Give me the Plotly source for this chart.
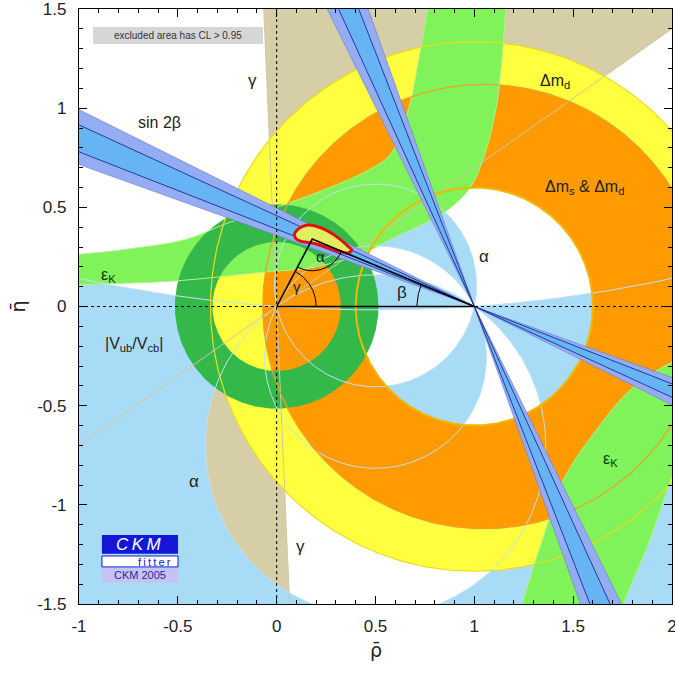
import numpy as np
import plotly.graph_objects as go

# ---------------- axis data ----------------
X_RANGE = [-1.0, 2.0]
Y_RANGE = [-1.5, 1.5]
X_TICKS = [-1, -0.5, 0, 0.5, 1, 1.5, 2]
X_TICK_TEXT = ["-1", "-0.5", "0", "0.5", "1", "1.5", "2"]
Y_TICKS = [-1.5, -1, -0.5, 0, 0.5, 1, 1.5]
Y_TICK_TEXT = ["-1.5", "-1", "-0.5", "0", "0.5", "1", "1.5"]

# ---------------- constraint data ----------------
GAMMA_DEG = [35.0, 92.5]                          # gamma (mod 180)
ALPHA_BANDS_DEG = [[78.0, 117.0], [144.5, 184.0]] # alpha (mod 180)
SIN2B_OUTER_DEG = [[19.7, 26.4], [63.6, 70.3]]    # beta solutions, 95% CL
SIN2B_INNER_DEG = [[21.3, 24.6], [65.4, 68.7]]    # beta solutions, 68% CL
DMD_CENTER = [1.0, 0.0]
DMD_RADII = [0.60, 1.335]
DMS_INNER = [1.0, 0.0, 0.60]                      # cx, cy, r
DMS_OUTER = [1.05, 0.0, 1.12]
VUB_CENTER = [0.0, 0.0]
VUB_RADII = [0.325, 0.515]

EPSK_UP_EDGE1_RHO = [-1.2, -1.0, -0.75, -0.46, -0.25, 0.0, 0.27, 0.45, 0.57, 0.63, 0.68, 0.72, 0.764, 0.79]
EPSK_UP_EDGE1_ETA = [0.25, 0.263, 0.29, 0.338, 0.42, 0.50, 0.60, 0.68, 0.76, 0.88, 1.045, 1.25, 1.5, 1.65]
EPSK_UP_EDGE2_RHO = [1.18, 1.16, 1.14, 1.11, 1.05, 0.98, 0.87, 0.75, 0.60, 0.44, 0.20, -0.10, -0.50, -1.0, -1.2]
EPSK_UP_EDGE2_ETA = [1.65, 1.5, 1.25, 1.0, 0.76, 0.60, 0.49, 0.42, 0.35, 0.27, 0.20, 0.17, 0.13, 0.11, 0.105]
EPSK_LO_EDGE1_RHO = [1.20, 1.243, 1.35, 1.45, 1.62, 1.79, 2.0, 2.2]
EPSK_LO_EDGE1_ETA = [-1.7, -1.5, -1.16, -0.875, -0.62, -0.42, -0.28, -0.20]
EPSK_LO_EDGE2_RHO = [2.15, 2.0, 1.876, 1.755, 1.70]
EPSK_LO_EDGE2_ETA = [-0.5, -0.86, -1.21, -1.5, -1.7]

FIT_RHO = [0.09, 0.115, 0.15, 0.20, 0.26, 0.32, 0.365, 0.38, 0.36, 0.31, 0.25, 0.18, 0.12, 0.095, 0.09]
FIT_ETA = [0.365, 0.395, 0.41, 0.405, 0.38, 0.34, 0.30, 0.285, 0.27, 0.28, 0.30, 0.32, 0.33, 0.345, 0.365]
APEX = [0.18, 0.34]

LABELS = [
    ("γ", -0.123, 1.138, 17, "#222"),
    ("sin 2β", -0.592, 0.929, 16, "#222"),
    ("Δm<sub>d</sub>", 1.41, 1.135, 16, "#222"),
    ("Δm<sub>s</sub> & Δm<sub>d</sub>", 1.555, 0.598, 16, "#222"),
    ("α", 1.05, 0.254, 17, "#222"),
    ("β", 0.636, 0.069, 17, "#222"),
    ("ε<sub>K</sub>", -0.85, 0.155, 16, "#0c3c0c"),
    ("|V<sub>ub</sub>/V<sub>cb</sub>|", -0.723, -0.19, 16, "#222"),
    ("α", -0.42, -0.88, 17, "#222"),
    ("γ", 0.121, -1.21, 17, "#222"),
    ("ε<sub>K</sub>", 1.69, -0.77, 16, "#0c3c0c"),
    ("γ", 0.105, 0.103, 15, "#222"),
    ("α", 0.223, 0.254, 15, "#222"),
]

FONT = "Liberation Sans, Arial, sans-serif"

# ---------------- geometry helpers ----------------
def circle(cx, cy, r, ccw=True, n=400):
    t = np.linspace(0, 2 * np.pi, n)
    if not ccw:
        t = t[::-1]
    return list(cx + r * np.cos(t)), list(cy + r * np.sin(t))

def join(parts):
    xs, ys = [], []
    for px, py in parts:
        if xs:
            xs.append(None); ys.append(None)
        xs += list(px); ys += list(py)
    return xs, ys

def alpha_circle(a_deg, ccw, n=400):
    a = np.radians(a_deg % 180.0)
    c = 0.5 / np.tan(a)
    R = 0.5 / abs(np.sin(a))
    nn = n if R < 2 else 4000
    return circle(0.5, c, R, ccw, nn)

def frame(ccw=True):
    xs = [-1.5, 2.5, 2.5, -1.5, -1.5]
    ys = [-2.0, -2.0, 2.0, 2.0, -2.0]
    if not ccw:
        xs, ys = xs[::-1], ys[::-1]
    return xs, ys

def wedge(px, py, a1, a2, L=6.0):
    th = np.radians(np.linspace(a1, a2, 30))
    return [px] + list(px + L * np.cos(th)) + [px], [py] + list(py + L * np.sin(th)) + [py]

def ray(px, py, a, L=6.0):
    t = np.radians(a)
    return [px, px + L * np.cos(t)], [py, py + L * np.sin(t)]

def arc(cx, cy, r, a1, a2, n=60):
    th = np.radians(np.linspace(a1, a2, n))
    return list(cx + r * np.cos(th)), list(cy + r * np.sin(th))

fig = go.Figure()

def fill(xy, color, shape="linear"):
    fig.add_trace(go.Scatter(x=xy[0], y=xy[1], mode="lines", fill="toself",
                             fillcolor=color, line=dict(width=0, color=color, shape=shape),
                             hoverinfo="skip", showlegend=False))

def line(xy, color, width=1.0, dash="solid", shape="linear"):
    fig.add_trace(go.Scatter(x=xy[0], y=xy[1], mode="lines",
                             line=dict(width=width, color=color, dash=dash, shape=shape),
                             hoverinfo="skip", showlegend=False))

# ---- gamma (tan) ----
g1, g2 = GAMMA_DEG
fill(join([wedge(0, 0, g1, g2), wedge(0, 0, g1 + 180, g2 + 180)]), "#d6cea7")

# ---- alpha (light blue) ----
for a1, a2 in ALPHA_BANDS_DEG:
    if a2 <= 180:
        xy = join([alpha_circle(a1, True), alpha_circle(a2, False)])
    else:
        xy = join([frame(True), alpha_circle(a1, False), alpha_circle(a2 - 180, False)])
    fill(xy, "#a8dcf6")

# ---- Delta m_d (yellow) ----
fill(join([circle(DMD_CENTER[0], DMD_CENTER[1], DMD_RADII[1], True),
           circle(DMD_CENTER[0], DMD_CENTER[1], DMD_RADII[0], False)]), "#ffff40")
# ---- Delta m_s & Delta m_d (orange) ----
fill(join([circle(DMS_OUTER[0], DMS_OUTER[1], DMS_OUTER[2], True),
           circle(DMS_INNER[0], DMS_INNER[1], DMS_INNER[2], False)]), "#ff9a00")

# ---- epsilon_K (light green) ----
fill((EPSK_UP_EDGE1_RHO + EPSK_UP_EDGE2_RHO, EPSK_UP_EDGE1_ETA + EPSK_UP_EDGE2_ETA), "#80f25a", "spline")
fill((EPSK_LO_EDGE1_RHO + EPSK_LO_EDGE2_RHO, EPSK_LO_EDGE1_ETA + EPSK_LO_EDGE2_ETA), "#80f25a", "spline")

# ---- |Vub/Vcb| (dark green ring) ----
fill(join([circle(VUB_CENTER[0], VUB_CENTER[1], VUB_RADII[1], True),
           circle(VUB_CENTER[0], VUB_CENTER[1], VUB_RADII[0], False)]), "#35b84a")

# ---- outlines of constraints ----
for a in [ALPHA_BANDS_DEG[0][0], ALPHA_BANDS_DEG[0][1], ALPHA_BANDS_DEG[1][0], ALPHA_BANDS_DEG[1][1]]:
    line(alpha_circle(a, True), "#bfe2f4", 1.0)
for a in [g1, g2, g1 + 180, g2 + 180]:
    line(ray(0, 0, a), "#cfc7a2", 1.0)
line((EPSK_UP_EDGE1_RHO, EPSK_UP_EDGE1_ETA), "#b4f290", 1.0, shape="spline")
line((EPSK_UP_EDGE2_RHO, EPSK_UP_EDGE2_ETA), "#b4f290", 1.0, shape="spline")
line((EPSK_LO_EDGE1_RHO, EPSK_LO_EDGE1_ETA), "#b4f290", 1.0, shape="spline")
line((EPSK_LO_EDGE2_RHO, EPSK_LO_EDGE2_ETA), "#b4f290", 1.0, shape="spline")
line(circle(DMD_CENTER[0], DMD_CENTER[1], DMD_RADII[1]), "#eadc20", 1.2)
line(circle(DMS_OUTER[0], DMS_OUTER[1], DMS_OUTER[2]), "#e8a428", 1.3)
line(circle(DMD_CENTER[0], DMD_CENTER[1], DMD_RADII[0]), "#f0b800", 2.0)

# ---- sin 2beta bands (through (1,0)) ----
for b1, b2 in SIN2B_OUTER_DEG:
    fill(join([wedge(1, 0, 180 - b2, 180 - b1), wedge(1, 0, -b2, -b1)]), "#93acf2")
for b1, b2 in SIN2B_INNER_DEG:
    fill(join([wedge(1, 0, 180 - b2, 180 - b1), wedge(1, 0, -b2, -b1)]), "#66b4f4")
for b1, b2 in SIN2B_OUTER_DEG:
    for b in (b1, b2):
        line(join([ray(1, 0, 180 - b), ray(1, 0, -b)]), "#6a7ad8", 0.6)
for b1, b2 in SIN2B_INNER_DEG:
    for b in (b1, b2):
        line(join([ray(1, 0, 180 - b), ray(1, 0, -b)]), "#1c2c90", 0.9)

# ---- global fit ----
fig.add_trace(go.Scatter(x=FIT_RHO, y=FIT_ETA, mode="lines", fill="toself",
                         fillcolor="#e2ee5e", line=dict(color="#e01010", width=3, shape="spline"),
                         hoverinfo="skip", showlegend=False))

# ---- unitarity triangle ----
ax, ay = APEX
line(([0, 1, ax, 0], [0, 0, ay, 0]), "black", 1.6)
gam = np.degrees(np.arctan2(ay, ax))
bet = np.degrees(np.arctan2(ay, 1 - ax))
line(arc(0, 0, 0.2, 0, gam), "black", 1.0)
line(arc(1, 0, 0.29, 180 - bet, 180), "black", 1.0)
line(arc(ax, ay, 0.16, 180 + gam, 360 - bet), "black", 1.0)

# ---- dotted zero lines ----
line(([0, 0], Y_RANGE), "black", 1.0, dash="dot")
line((X_RANGE, [0, 0]), "black", 1.0, dash="dot")

# ---------------- annotations ----------------
ann = []
for txt, x, y, sz, col in LABELS:
    ann.append(dict(x=x, y=y, xref="x", yref="y", text=txt, showarrow=False,
                    xanchor="center", yanchor="middle",
                    font=dict(family=FONT, size=sz, color=col)))

shapes = [
    dict(type="rect", xref="x", yref="y", x0=-0.929, x1=-0.069, y0=1.323, y1=1.409,
         fillcolor="#d6d6d6", line=dict(width=0), layer="above"),
    dict(type="rect", xref="x", yref="y", x0=-0.884, x1=-0.499, y0=-1.247, y1=-1.152,
         fillcolor="#1616d8", line=dict(width=0), layer="above"),
    dict(type="rect", xref="x", yref="y", x0=-0.884, x1=-0.499, y0=-1.313, y1=-1.258,
         fillcolor="white", line=dict(width=1, color="#1616d8"), layer="above"),
    dict(type="rect", xref="x", yref="y", x0=-0.884, x1=-0.499, y0=-1.392, y1=-1.318,
         fillcolor="#c6c2f2", line=dict(width=0), layer="above"),
]
ann += [
    dict(x=-0.499, y=1.366, xref="x", yref="y", text="excluded area has CL > 0.95", showarrow=False,
         xanchor="center", yanchor="middle", font=dict(family=FONT, size=10, color="#333")),
    dict(x=-0.70, y=-1.20, xref="x", yref="y", text="<i>C\u2009K\u2009M</i>", showarrow=False,
         xanchor="center", yanchor="middle", font=dict(family=FONT, size=17, color="white")),
    dict(x=-0.62, y=-1.287, xref="x", yref="y", text="f\u2009i\u2009t\u2009t\u2009e\u2009r", showarrow=False,
         xanchor="center", yanchor="middle", font=dict(family=FONT, size=11, color="#1616d8")),
    dict(x=-0.69, y=-1.356, xref="x", yref="y", text="CKM 2005", showarrow=False,
         xanchor="center", yanchor="middle", font=dict(family=FONT, size=11, color="#2a2aa0")),
    dict(x=0.5, y=-0.077, xref="paper", yref="paper", text="ρ\u0304", showarrow=False,
         xanchor="center", yanchor="middle", font=dict(family="DejaVu Sans", size=19, color="#222")),
    dict(x=-0.103, y=0.5, xref="paper", yref="paper", text="η\u0304", showarrow=False, textangle=-90,
         xanchor="center", yanchor="middle", font=dict(family="DejaVu Sans", size=19, color="#222")),
]

axis_common = dict(showgrid=False, zeroline=False, showline=True, linecolor="black", linewidth=1.2,
                   mirror="allticks", ticks="inside", ticklen=8, tickwidth=1, tickcolor="black",
                   ticklabeloverflow="allow", automargin=False,
                   tickfont=dict(family=FONT, size=17, color="#222"),
                   minor=dict(ticks="inside", dtick=0.1, ticklen=4, tickcolor="black", tickwidth=1))

fig.update_layout(
    width=675, height=679,
    margin=dict(l=79, r=3, t=9, b=75, autoexpand=False),
    paper_bgcolor="white", plot_bgcolor="white",
    showlegend=False,
    xaxis=dict(range=X_RANGE, tickvals=X_TICKS, ticktext=X_TICK_TEXT, ticklabelstandoff=6, **axis_common),
    yaxis=dict(range=Y_RANGE, tickvals=Y_TICKS, ticktext=Y_TICK_TEXT, ticklabelstandoff=8, **axis_common),
    annotations=ann, shapes=shapes,
)

fig.write_html("out.html", config={"displayModeBar": False},
               post_script="document.body.style.margin='0';document.body.style.overflow='hidden';")
